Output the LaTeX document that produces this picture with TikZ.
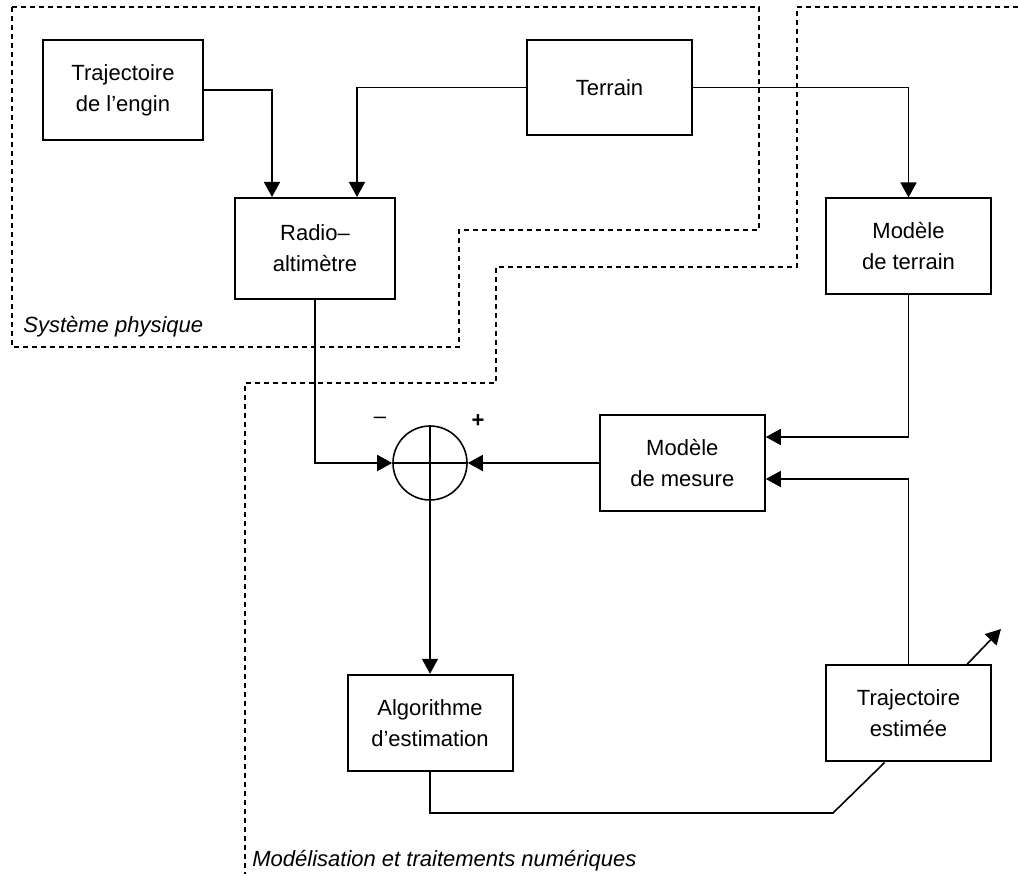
\documentclass[tikz,border=0pt]{standalone}
\usepackage{fontspec}
\setmainfont{Liberation Sans}
\usetikzlibrary{positioning,arrows.meta,calc}
\tikzstyle{bbox}=[rectangle, draw=black, line width=1pt, minimum width=82.5pt, minimum height=48pt, inner sep=2pt, align=center, font=\fontsize{11pt}{15.5pt}\selectfont]
\tikzstyle{sbox}=[circle, draw=black, line width=0.8pt, minimum size=37pt, inner sep=0pt]
\tikzstyle{pline}=[-{Triangle[length=7.5pt,width=8pt]}, line width=0.8pt]
\tikzstyle{qline}=[-, line width=0.8pt]
\tikzstyle{zone}=[-, line width=0.6pt, dash pattern=on 2.5pt off 2pt]
\tikzstyle{zlabel}=[anchor=base west, inner sep=0pt, font=\fontsize{11pt}{13pt}\selectfont\itshape]

\begin{document}
\begin{tikzpicture}[x=0.5pt,y=-0.5pt]
\useasboundingbox (0,0) rectangle (1018,876);
% dashed zones
\draw[zone] (12,7) -- (759,7) -- (759,230) -- (459,230) -- (459,347) -- (12,347) -- cycle;
\draw[zone] (1018,7) -- (797,7) -- (797,267) -- (496,267) -- (496,383) -- (245,383) -- (245,874);
\node (ZPHYS) [zlabel] at (23,333) {Système physique};
\node (ZMOD) [zlabel] at (252,866) {Modélisation et traitements numériques};
% boxes
\node (TRAJ) [bbox, minimum width=80pt, minimum height=50pt] at (123,90) {Trajectoire\\de l’engin};
\node (TER) [bbox, minimum height=47.5pt, right=161pt of TRAJ, yshift=1.25pt] {Terrain};
\node (RAD) [bbox, minimum width=80pt, minimum height=50.5pt, below right=28pt and 15pt of TRAJ] {Radio–\\altimètre};
\node (MTER) [bbox, below right=30.75pt and 66pt of TER] {Modèle\\de terrain};
\node (SUM) [sbox] at (430,463) {};
\node (MINUS) [font=\fontsize{11pt}{13pt}\selectfont] at (380,420) {–};
\node (PLUS) [font=\fontsize{11pt}{13pt}\selectfont\bfseries] at (478,421) {+};
\node (MMES) [bbox, right=65.5pt of SUM] {Modèle\\de mesure};
\node (ALGO) [bbox, below=86.5pt of SUM] {Algorithme\\d’estimation};
\node (TEST) [bbox, below=184.5pt of MTER] {Trajectoire\\estimée};
\coordinate (BEND) at (833,813);
\coordinate (OUT) at (1001,629);
% connectors
\draw[qline] (SUM.north) -- (SUM.south) (SUM.west) -- (SUM.east);
\draw[pline] (TRAJ.east) -| ([xshift=-21.5pt]RAD.north);
\draw[pline] (TER.west) -| ([xshift=21pt]RAD.north);
\draw[pline] (TER.east) -| (MTER.north);
\draw[pline] (RAD.south) |- (SUM.west);
\draw[pline] (MMES.west) -- (SUM.east);
\draw[pline] (MTER.south) |- ([yshift=13pt]MMES.east);
\draw[pline] (TEST.north) |- ([yshift=-8pt]MMES.east);
\draw[pline] (SUM.south) -- (ALGO.north);
\draw[qline] (ALGO.south) |- (BEND) -- (TEST.244);
\draw[pline] (TEST.40) -- (OUT);
\end{tikzpicture}
\end{document}
